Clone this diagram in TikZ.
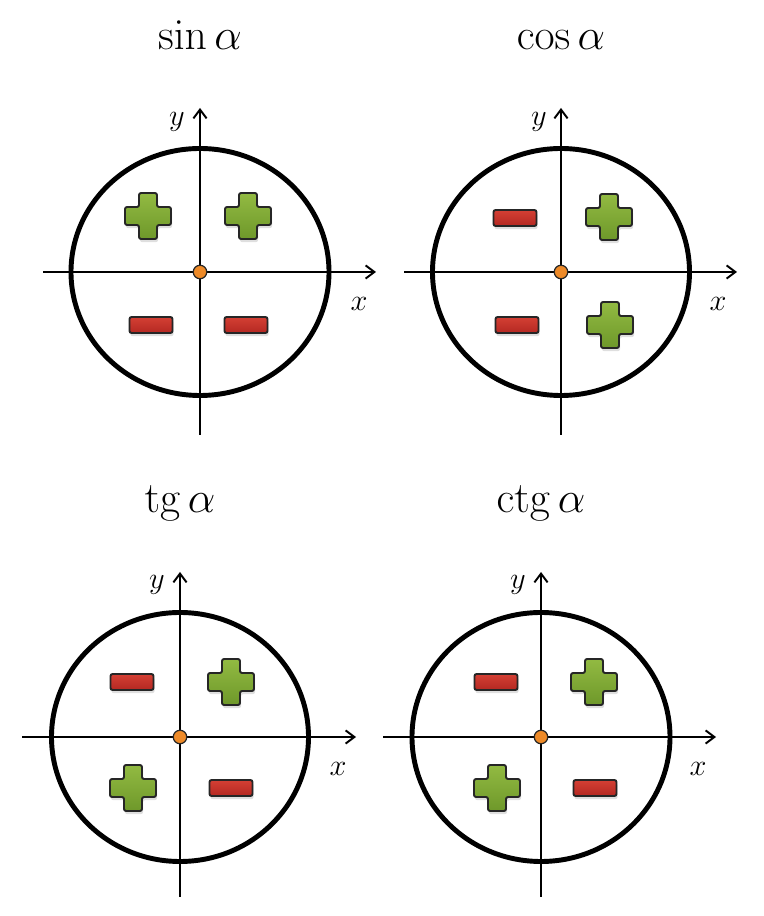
\documentclass[tikz,border=0pt]{standalone}
\usetikzlibrary{arrows.meta,shadows}

\definecolor{plusgreen}{RGB}{146,186,66}
\definecolor{plusgreendark}{RGB}{110,152,42}
\definecolor{minusred}{RGB}{212,64,52}
\definecolor{minusreddark}{RGB}{180,40,34}
\definecolor{dotorange}{RGB}{238,138,40}

\tikzset{
  axis/.style={line width=1.1pt, -{Straight Barb[length=5pt,width=7.5pt,line width=1.1pt]}},
  ring/.style={line width=2.8pt},
  origindot/.style={circle, draw=black!85, fill=dotorange, inner sep=0pt,
    minimum size=0.27cm, line width=0.7pt},
  plusbox/.style={draw=black!85, line width=1.1pt, rounded corners=1.2pt,
    top color=plusgreen, bottom color=plusgreendark,
    drop shadow={opacity=0.25, shadow xshift=0.6pt, shadow yshift=-1.8pt}},
  minusbox/.style={rectangle, draw=black!85, line width=1.1pt, rounded corners=1.2pt,
    minimum width=0.86cm, minimum height=0.32cm, inner sep=0pt,
    top color=minusred, bottom color=minusreddark,
    drop shadow={opacity=0.25, shadow xshift=0.6pt, shadow yshift=-1.8pt}},
  title/.style={font=\fontsize{24}{28}\selectfont, anchor=base},
  axislabel/.style={font=\fontsize{19}{22}\selectfont}
}

% plus sign centred at a point
\newcommand{\plusmark}[1]{%
  \draw[plusbox, shift={(#1)}] (-0.18,0.46) -- (0.18,0.46) -- (0.18,0.18) -- (0.46,0.18)
    -- (0.46,-0.18) -- (0.18,-0.18) -- (0.18,-0.46) -- (-0.18,-0.46) -- (-0.18,-0.18)
    -- (-0.46,-0.18) -- (-0.46,0.18) -- (-0.18,0.18) -- cycle;}

\begin{document}
\begin{tikzpicture}[scale=1]
  \useasboundingbox (0,0) rectangle (15.28,18.32);

  % sin
  \begin{scope}[shift={(4.00,12.88)}]
    \coordinate (sinO) at (0,0);
    \coordinate (sinXa) at (-3.14,0);
    \coordinate (sinXb) at (3.52,0);
    \coordinate (sinYa) at (0,-3.26);
    \coordinate (sinYb) at (0,3.28);
    \draw[ring] (sinO) ellipse [x radius=2.58, y radius=2.47];
    \draw[axis] (sinXa) -- (sinXb);
    \draw[axis] (sinYa) -- (sinYb);
    \node[origindot] (sinDot) at (sinO) {};
    \node[axislabel] (sinY) at (-0.46,3.0) {$y$};
    \node[axislabel] (sinX) at (3.18,-0.64) {$x$};
    \node[title] (sinT) at (0,4.44) {$\sin\alpha$};
    \plusmark{-1.04,1.12}
    \plusmark{0.96,1.12}
    \node[minusbox] (sinM3) at (-0.98,-1.06) {};
    \node[minusbox] (sinM4) at (0.92,-1.06) {};
  \end{scope}

  % cos
  \begin{scope}[shift={(11.22,12.88)}]
    \coordinate (cosO) at (0,0);
    \coordinate (cosXa) at (-3.14,0);
    \coordinate (cosXb) at (3.52,0);
    \coordinate (cosYa) at (0,-3.26);
    \coordinate (cosYb) at (0,3.28);
    \draw[ring] (cosO) ellipse [x radius=2.57, y radius=2.47];
    \draw[axis] (cosXa) -- (cosXb);
    \draw[axis] (cosYa) -- (cosYb);
    \node[origindot] (cosDot) at (cosO) {};
    \node[axislabel] (cosY) at (-0.44,3.0) {$y$};
    \node[axislabel] (cosX) at (3.14,-0.64) {$x$};
    \node[title] (cosT) at (0,4.44) {$\cos\alpha$};
    \node[minusbox] (cosM2) at (-0.92,1.08) {};
    \plusmark{0.96,1.10}
    \node[minusbox] (cosM3) at (-0.88,-1.06) {};
    \plusmark{0.98,-1.06}
  \end{scope}

  % tg
  \begin{scope}[shift={(3.60,3.58)}]
    \coordinate (tgO) at (0,0);
    \coordinate (tgXa) at (-3.16,0);
    \coordinate (tgXb) at (3.52,0);
    \coordinate (tgYa) at (0,-3.20);
    \coordinate (tgYb) at (0,3.30);
    \draw[ring] (tgO) ellipse [x radius=2.57, y radius=2.49];
    \draw[axis] (tgXa) -- (tgXb);
    \draw[axis] (tgYa) -- (tgYb);
    \node[origindot] (tgDot) at (tgO) {};
    \node[axislabel] (tgY) at (-0.46,3.04) {$y$};
    \node[axislabel] (tgX) at (3.16,-0.64) {$x$};
    \node[title] (tgT) at (0,4.48) {$\mathrm{tg}\,\alpha$};
    \node[minusbox] (tgM2) at (-0.96,1.10) {};
    \plusmark{1.02,1.10}
    \plusmark{-0.94,-1.02}
    \node[minusbox] (tgM4) at (1.02,-1.02) {};
  \end{scope}

  % ctg
  \begin{scope}[shift={(10.82,3.58)}]
    \coordinate (ctgO) at (0,0);
    \coordinate (ctgXa) at (-3.16,0);
    \coordinate (ctgXb) at (3.50,0);
    \coordinate (ctgYa) at (0,-3.20);
    \coordinate (ctgYb) at (0,3.30);
    \draw[ring] (ctgO) ellipse [x radius=2.58, y radius=2.49];
    \draw[axis] (ctgXa) -- (ctgXb);
    \draw[axis] (ctgYa) -- (ctgYb);
    \node[origindot] (ctgDot) at (ctgO) {};
    \node[axislabel] (ctgY) at (-0.46,3.04) {$y$};
    \node[axislabel] (ctgX) at (3.14,-0.64) {$x$};
    \node[title] (ctgT) at (0,4.48) {$\mathrm{ctg}\,\alpha$};
    \node[minusbox] (ctgM2) at (-0.90,1.10) {};
    \plusmark{1.06,1.10}
    \plusmark{-0.88,-1.02}
    \node[minusbox] (ctgM4) at (1.08,-1.02) {};
  \end{scope}
\end{tikzpicture}
\end{document}
